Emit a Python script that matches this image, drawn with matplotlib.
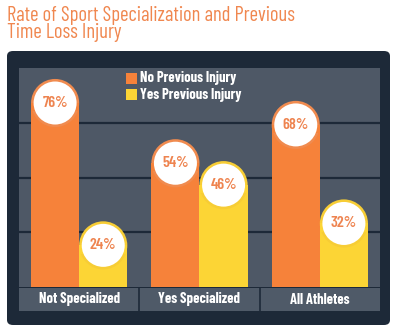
import matplotlib.pyplot as plt
from matplotlib.patches import Rectangle, Ellipse, FancyBboxPatch

categories = ['Not Specialized', 'Yes Specialized', 'All Athletes']
no_injury = [76, 54, 68]
yes_injury = [24, 46, 32]
labels_no = ['76%', '54%', '68%']
labels_yes = ['24%', '46%', '32%']
series_names = ['No Previous Injury', 'Yes Previous Injury']

orange = '#f6823a'
orange_cap = '#f08b4f'
yellow = '#fcd535'
yellow_cap = '#f7cd35'
panel = '#1d2938'
plot_bg = '#4e5866'
text_orange = '#ee8450'
narrow = ['Barlow Condensed', 'DejaVu Sans']

W, H = 402, 334
fig = plt.figure(figsize=(W / 100, H / 100), dpi=100)
fig.patch.set_facecolor('white')

# dark rounded panel
fig.patches.append(FancyBboxPatch((7 / W, 9 / H), 383 / W, 274 / H,
                                  boxstyle='round,pad=0,rounding_size=0.015',
                                  transform=fig.transFigure, facecolor=panel,
                                  edgecolor='none', zorder=-5))

fig.text(7 / W, 1 - 6 / H, 'Rate of Sport Specialization and Previous\nTime Loss Injury',
         color='#f0874f', fontsize=14.8, family=narrow, va='top', ha='left',
         linespacing=0.85)

# bar area
ax_l, ax_w = 19 / W, 361 / W
ax_b, ax_h = 47 / H, 219 / H
ax = fig.add_axes([ax_l, ax_b, ax_w, ax_h])
ax.set_facecolor(plot_bg)
ax.set_xlim(-0.5, 2.5)
ax.set_ylim(0, 80)
for s in ax.spines.values():
    s.set_visible(False)
ax.set_xticks([])
ax.set_yticks([])
for g in [20, 40, 60]:
    ax.axhline(g, color='#1d2938', lw=1.6, zorder=1)

ppx = ax_w * W / 3.0      # pixels per x unit
ppy = ax_h * H / 80.0     # pixels per y unit
bw = 0.4
r_px = bw * ppx / 2
ry = r_px / ppy
wr_px = 21.5


def rounded_bar(xc, v, color, cap_color, label):
    ax.add_patch(Rectangle((xc - bw / 2, 0), bw, v - ry, facecolor=color,
                           edgecolor='none', zorder=2))
    ax.add_patch(Ellipse((xc, v - ry), bw, 2 * ry, facecolor=cap_color,
                         edgecolor='none', zorder=2))
    ax.add_patch(Rectangle((xc - bw / 2, v - ry - 3), bw, 3, facecolor=color,
                           edgecolor='none', zorder=2))
    ax.add_patch(Ellipse((xc, v - ry), 2 * wr_px / ppx, 2 * wr_px / ppy,
                         facecolor='white', edgecolor='none', zorder=3))
    ax.text(xc, v - ry, label, color=text_orange, fontsize=11.5, fontweight='semibold',
            family=narrow, ha='center', va='center', zorder=4)


for i in range(len(categories)):
    rounded_bar(i - bw / 2, no_injury[i], orange, orange_cap, labels_no[i])
    rounded_bar(i + bw / 2, yes_injury[i], yellow, yellow_cap, labels_yes[i])

# legend
lx, ly = 126, 73
for k, (name, c) in enumerate(zip(series_names, [orange, yellow])):
    y0 = ly + k * 16
    fig.patches.append(Rectangle((lx / W, 1 - (y0 + 11) / H), 11 / W, 11 / H,
                                 transform=fig.transFigure, facecolor=c,
                                 edgecolor='none', zorder=5))
    fig.text(140 / W, 1 - (y0 + 5.5) / H, name, color='white', fontsize=10.5,
             fontweight='bold', family=narrow, va='center', ha='left', zorder=6)

# category strip
sx = fig.add_axes([ax_l, 23 / H, ax_w, 23 / H])
sx.set_facecolor('#4f5a68')
sx.set_xlim(-0.5, 2.5)
sx.set_ylim(0, 1)
for s in sx.spines.values():
    s.set_visible(False)
sx.set_xticks([])
sx.set_yticks([])
for b in [0.5, 1.5]:
    sx.axvline(b, color=panel, lw=1.2)
for i, c in enumerate(categories):
    sx.text(i, 0.5, c, color='white', fontsize=10.5, fontweight='bold',
            family=narrow, ha='center', va='center')

fig.savefig('out.png', dpi=100)
